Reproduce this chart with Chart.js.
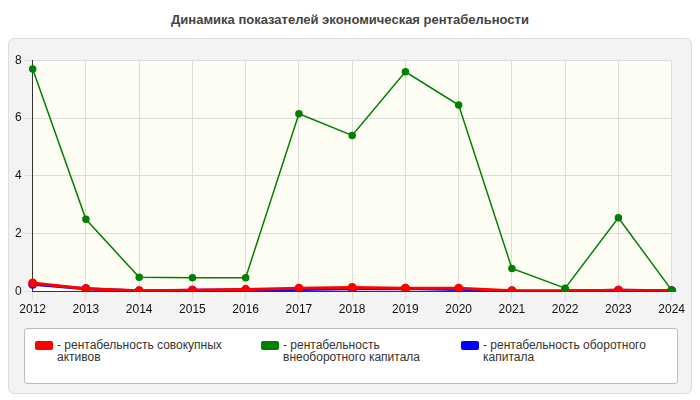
<!DOCTYPE html>
<html><head><meta charset="utf-8">
<script src="https://cdn.jsdelivr.net/npm/chart.js@4"></script>
<style>
body{margin:0;width:700px;height:400px;background:#fff;font-family:Arial,"Liberation Sans",sans-serif;position:relative;overflow:hidden}
#title{position:absolute;top:12px;left:0;width:700px;text-align:center;font-weight:bold;font-size:13px;color:#444}
#panel{position:absolute;left:8px;top:38px;width:682px;height:354px;background:#f3f3f3;border:1px solid #ddd;border-radius:6px}
#cw{position:absolute;left:12px;top:50px;width:676px;height:270px}
#legend{position:absolute;left:24px;top:328px;width:652px;height:54px;background:#fff;border:1px solid #bbb;border-radius:3px;font-size:12px;color:#333}
.it{position:absolute;top:10px;display:flex;line-height:12px}
.sw{width:18px;height:9px;border-radius:2px;margin-right:4px;margin-top:2px;flex:none}
</style></head><body>
<div id="title">Динамика показателей экономическая рентабельности</div>
<div id="panel"></div>
<div id="cw"><canvas id="c"></canvas></div>
<div id="legend">
<div class="it" style="left:10px;width:210px"><div class="sw" style="background:#f00"></div><div>- рентабельность совокупных активов</div></div>
<div class="it" style="left:236px;width:200px"><div class="sw" style="background:#008000"></div><div>- рентабельность внеоборотного капитала</div></div>
<div class="it" style="left:436px;width:210px"><div class="sw" style="background:#00f"></div><div>- рентабельность оборотного капитала</div></div>
</div>
<script>
const years=["2012","2013","2014","2015","2016","2017","2018","2019","2020","2021","2022","2023","2024"];
const totalAssets=[0.3,0.1,0.03,0.05,0.07,0.12,0.14,0.12,0.12,0.03,0.02,0.05,0.03];
const nonCurrent=[7.7,2.5,0.5,0.48,0.48,6.15,5.4,7.6,6.45,0.8,0.12,2.55,0.05];
const current=[0.25,0.1,0.02,0.05,0.06,0.07,0.1,0.11,0.07,0.02,0.02,0.05,0.03];
const bg={id:'bg',beforeDraw(c){const a=c.chartArea,x=c.ctx;x.save();x.fillStyle='#fdfdf3';x.fillRect(a.left,a.top,a.width,a.height);x.restore();}};
function ds(d,col,w){return{data:d,borderColor:col,backgroundColor:col,borderWidth:w,pointRadius:3,tension:0};}
new Chart(document.getElementById('c'),{type:'line',
data:{labels:years,datasets:[ds(nonCurrent,'#008000',1.5),ds(totalAssets,'#f00',3),ds(current,'#00f',3)]},
options:{responsive:true,maintainAspectRatio:false,animation:false,
layout:{padding:{left:0,right:8,top:0}},
plugins:{legend:{display:false},tooltip:{enabled:false}},
scales:{x:{offset:false,grid:{color:'#ddd',borderDash:[4,4]},border:{color:'#333'},ticks:{color:'#111',font:{size:12},maxRotation:0}},
y:{min:0,max:8,ticks:{stepSize:2,color:'#111',font:{size:12}},grid:{color:'#ddd'},border:{color:'#333'}}}},
plugins:[bg]});
</script></body></html>
